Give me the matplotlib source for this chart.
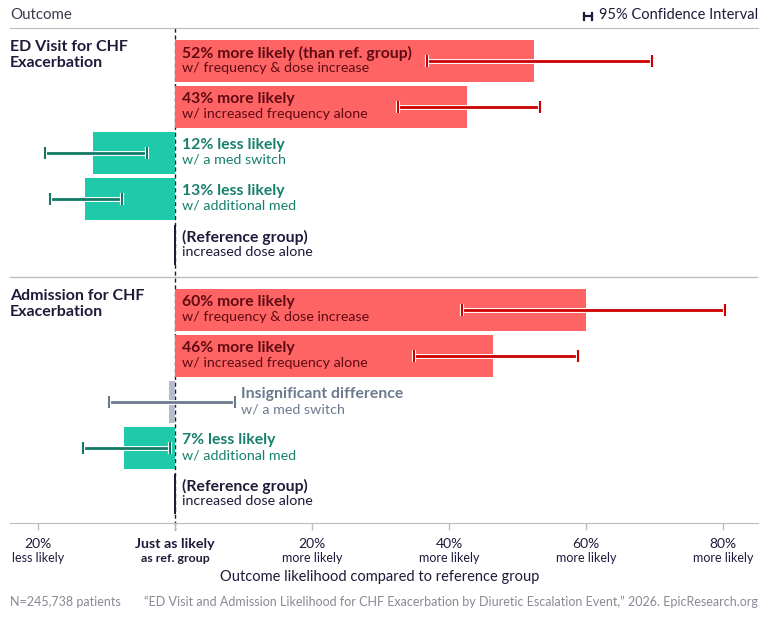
import matplotlib
matplotlib.use("Agg")
import matplotlib.pyplot as plt
import matplotlib.patheffects as pe
from matplotlib.lines import Line2D

plt.rcParams['font.family'] = ['Lato', 'DejaVu Sans']

# ---- data ----
groups = ["ED Visit for CHF\nExacerbation", "Admission for CHF\nExacerbation"]

ed_head = ["52% more likely (than ref. group)", "43% more likely", "12% less likely",
           "13% less likely", "(Reference group)"]
ed_sub = ["w/ frequency & dose increase", "w/ increased frequency alone", "w/ a med switch",
          "w/ additional med", "increased dose alone"]
ed_kind = ["more", "more", "less", "less", "ref"]
ed_value = [52.4, 42.6, -11.9, -13.2, 0.0]
ed_lo = [36.8, 32.6, -19.0, -18.2, None]
ed_hi = [69.7, 53.3, -4.1, -7.8, None]

adm_head = ["60% more likely", "46% more likely", "Insignificant difference",
            "7% less likely", "(Reference group)"]
adm_sub = ["w/ frequency & dose increase", "w/ increased frequency alone", "w/ a med switch",
           "w/ additional med", "increased dose alone"]
adm_kind = ["more", "more", "ns", "less", "ref"]
adm_value = [60.0, 46.4, -0.9, -7.4, 0.0]
adm_lo = [41.9, 34.9, -9.6, -13.5, None]
adm_hi = [80.3, 58.9, 8.7, -0.8, None]

ticks = [-20, 0, 20, 40, 60, 80]
tick_top = ["20%", "Just as likely", "20%", "40%", "60%", "80%"]
tick_bot = ["less likely", "as ref. group", "more likely", "more likely", "more likely", "more likely"]

# ---- styles ----
NAVY = "#1d1b3a"
GRID = "#bdbdbd"
styles = {
    "more": dict(bar="#ff6464", ci="#cc0000", head="#5e0a12", sub="#5e0a12"),
    "less": dict(bar="#1ecaa9", ci="#137a66", head="#16806c", sub="#16806c"),
    "ns":   dict(bar="#b6bdca", ci="#6c7a8e", head="#6c7a8e", sub="#6c7a8e"),
    "ref":  dict(bar=NAVY, ci=NAVY, head=NAVY, sub=NAVY),
}

W, H = 768, 618
fig = plt.figure(figsize=(W / 100, H / 100), dpi=100)
ax = fig.add_axes([10 / W, (H - 523) / H, 748 / W, (523 - 28) / H])
px = 6.85  # pixels per percent
ax.set_xlim((10 - 175) / px, (758 - 175) / px)
ax.set_ylim(523, 28)

for s in ["left", "right"]:
    ax.spines[s].set_visible(False)
ax.spines["top"].set_color(GRID)
ax.spines["bottom"].set_color(GRID)
ax.set_yticks([])
ax.set_xticks(ticks)
ax.set_xticklabels([])
ax.tick_params(axis="x", length=5, color=GRID, width=1)

# dashed zero line
ax.plot([0, 0], [28, 530], color=NAVY, lw=1, ls=(0, (3, 2)), clip_on=False, zorder=1)

# group separator
ax.axhline(277, color=GRID, lw=1)

group_data = [
    (ed_head, ed_sub, ed_kind, ed_value, ed_lo, ed_hi, 61),
    (adm_head, adm_sub, adm_kind, adm_value, adm_lo, adm_hi, 310),
]
row_step = 46
bar_h = 42

for gi, (heads, subs, kinds, vals, los, his, y0) in enumerate(group_data):
    ax.text((10 - 175) / px, y0 - 6, groups[gi], fontsize=11.5, fontweight="bold",
            color=NAVY, va="center", ha="left", linespacing=1.15)
    for i in range(len(vals)):
        y = y0 + i * row_step
        st = styles[kinds[i]]
        if kinds[i] == "ref":
            ax.barh(y, 0.4, left=-0.2, height=bar_h - 2, color=st["bar"], zorder=3)
        else:
            ax.barh(y, vals[i], height=bar_h, color=st["bar"], zorder=2)
            c = (los[i] + his[i]) / 2
            eb = ax.errorbar(c, y, xerr=[[c - los[i]], [his[i] - c]], fmt="none",
                             ecolor=st["ci"], elinewidth=2, capsize=4, capthick=1.5, zorder=4)
            for lc in eb.lines[2]:
                lc.set_path_effects([pe.Stroke(linewidth=3.5, foreground="white"), pe.Normal()])
            for ln in eb.lines[1]:
                ln.set_zorder(5)
                ln.set_path_effects([pe.Stroke(linewidth=3, foreground="white"), pe.Normal()])
        tx = 1.0 if kinds[i] != "ns" else his[i] + 0.9
        ax.text(tx, y - 8, heads[i], fontsize=11.3, fontweight="bold", color=st["head"],
                va="center", ha="left", zorder=6)
        ax.text(tx, y + 7, subs[i], fontsize=10.3, color=st["sub"],
                va="center", ha="left", zorder=6)

# tick labels (two lines each)
for t, a, b in zip(ticks, tick_top, tick_bot):
    bold = t == 0
    ax.text(t, 544, a, fontsize=10 if not bold else 10.3, fontweight="bold" if bold else "normal",
            color=NAVY, ha="center", va="center", clip_on=False)
    ax.text(t, 558, b, fontsize=9 if not bold else 8.9, fontweight="bold" if bold else "normal",
            color=NAVY, ha="center", va="center", clip_on=False)

fig.text(380 / W, 1 - 577 / H, "Outcome likelihood compared to reference group",
         fontsize=10.5, color=NAVY, ha="center", va="center")

# header
fig.text(10 / W, 1 - 15 / H, "Outcome", fontsize=10.8, color="#3a3a4a", ha="left", va="center")
fig.text(758 / W, 1 - 15 / H, "95% Confidence Interval", fontsize=10.5, color=NAVY,
         ha="right", va="center")
iy = 1 - 16 / H
fig.add_artist(Line2D([584 / W, 592 / W], [iy, iy], color=NAVY, lw=1.6))
for xx in (584, 592):
    fig.add_artist(Line2D([xx / W, xx / W], [iy - 3.5 / H, iy + 3.5 / H], color=NAVY, lw=1.6))

# footer
fig.text(10 / W, 1 - 602 / H, "N=245,738 patients", fontsize=9, color="#868a94",
         ha="left", va="center")
fig.text(758 / W, 1 - 602 / H,
         "\u201cED Visit and Admission Likelihood for CHF Exacerbation by Diuretic Escalation Event,\u201d 2026. EpicResearch.org",
         fontsize=9, color="#868a94", ha="right", va="center")

fig.savefig("out.png", dpi=100)
